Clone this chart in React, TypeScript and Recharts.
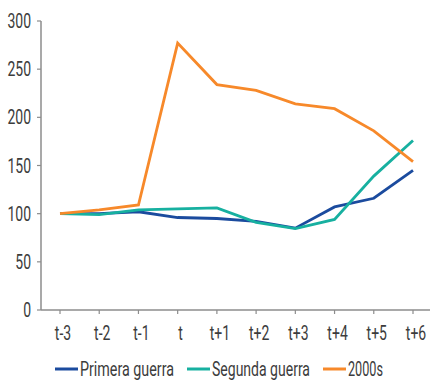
import React from 'react';
import { LineChart, Line, XAxis, YAxis, Legend } from 'recharts';

const categories = ['t-3', 't-2', 't-1', 't', 't+1', 't+2', 't+3', 't+4', 't+5', 't+6'];
const primeraGuerra = [100, 100, 102, 96, 95, 92, 85, 107, 116, 145];
const segundaGuerra = [100, 99, 104, 105, 106, 91, 84.5, 94, 139, 176];
const dosmil = [100, 104, 109, 277, 234, 228, 214, 209, 186, 154];
const yTicks = [0, 50, 100, 150, 200, 250, 300];
const seriesNames = ['Primera guerra', 'Segunda guerra', '2000s'];
const seriesColors = ['#1b4b9e', '#17b0a0', '#f7892a'];

const data = categories.map((c, i) => ({
  name: c,
  primera: primeraGuerra[i],
  segunda: segundaGuerra[i],
  dosmil: dosmil[i],
}));

const FONT = 'Roboto, "DejaVu Sans Condensed", sans-serif';
const AXIS = '#8c8c8c';
const TEXT = '#3c3c3c';
const SQUEEZE = 0.7;
const FS = 20;

const XTick = (props: any) => {
  const { x, y, payload } = props;
  return (
    <g transform={`translate(${x + 3},${y + 24}) scale(${SQUEEZE},1)`}>
      <text x={0} y={0} textAnchor="middle" fill={TEXT} fontSize={FS} fontFamily={FONT}>
        {payload.value}
      </text>
    </g>
  );
};

const YTick = (props: any) => {
  const { x, y, payload } = props;
  return (
    <g transform={`translate(${x - 4},${y + 7}) scale(${SQUEEZE},1)`}>
      <text x={0} y={0} textAnchor="end" fill={TEXT} fontSize={FS} fontFamily={FONT}>
        {payload.value}
      </text>
    </g>
  );
};

const labelWidths = [94, 98, 35];

const LegendContent = () => {
  const icon = 23;
  const gap = 2;
  const itemGap = 13;
  const total =
    labelWidths.reduce((a, b) => a + b, 0) + seriesNames.length * (icon + gap) + (seriesNames.length - 1) * itemGap;
  let cx = 219 - total / 2;
  const items = seriesNames.map((n, i) => {
    const x0 = cx;
    cx += icon + gap + labelWidths[i] + itemGap;
    return (
      <g key={n}>
        <line x1={x0} x2={x0 + icon} y1={17} y2={17} stroke={seriesColors[i]} strokeWidth={3} />
        <text
          x={x0 + icon + gap}
          y={24}
          fill={TEXT}
          fontSize={FS}
          fontFamily={FONT}
          textLength={labelWidths[i]}
          lengthAdjust="spacingAndGlyphs"
        >
          {n}
        </text>
      </g>
    );
  });
  return (
    <svg width={430} height={34} style={{ display: 'block' }}>
      {items}
    </svg>
  );
};

export default function App() {
  return (
    <div style={{ position: 'absolute', left: 0, top: 0, width: 430, height: 380, background: '#fff' }}>
      <LineChart
        width={430}
        height={380}
        data={data}
        margin={{ top: 21, right: 0, bottom: 0, left: 0 }}
      >
        <XAxis
          dataKey="name"
          padding={{ left: 19, right: 17 }}
          stroke={AXIS}
          tickSize={4}
          tickMargin={2}
          tick={<XTick />}
          tickLine={{ stroke: AXIS, strokeWidth: 1.2 }}
          axisLine={{ stroke: AXIS, strokeWidth: 1.5 }}
          height={36}
          interval={0}
        />
        <YAxis
          domain={[0, 300]}
          ticks={yTicks}
          width={41}
          stroke={AXIS}
          tickSize={4}
          tickMargin={2}
          tick={<YTick />}
          tickLine={{ stroke: AXIS, strokeWidth: 1.2 }}
          axisLine={{ stroke: AXIS, strokeWidth: 1.5 }}
          interval={0}
        />
        <Legend
          verticalAlign="bottom"
          height={34}
          content={<LegendContent />}
          wrapperStyle={{ left: 0, width: 430, top: 352 }}
        />
        <Line
          type="linear"
          dataKey="primera"
          name={seriesNames[0]}
          stroke={seriesColors[0]}
          strokeWidth={2.8}
          dot={false}
          isAnimationActive={false}
        />
        <Line
          type="linear"
          dataKey="segunda"
          name={seriesNames[1]}
          stroke={seriesColors[1]}
          strokeWidth={2.8}
          dot={false}
          isAnimationActive={false}
        />
        <Line
          type="linear"
          dataKey="dosmil"
          name={seriesNames[2]}
          stroke={seriesColors[2]}
          strokeWidth={2.8}
          dot={false}
          isAnimationActive={false}
        />
      </LineChart>
    </div>
  );
}
